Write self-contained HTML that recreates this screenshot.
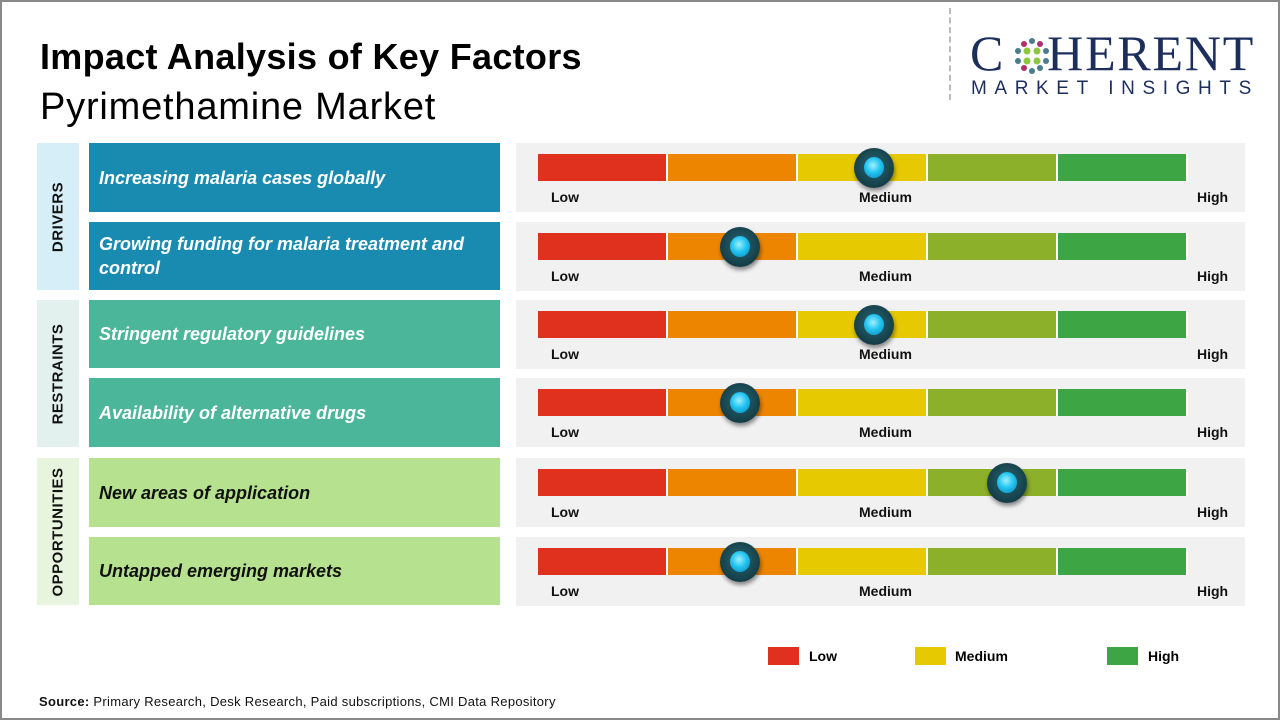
<!DOCTYPE html>
<html><head><meta charset="utf-8"><style>
*{margin:0;padding:0;box-sizing:border-box}
body{width:1280px;height:720px;position:relative;background:#fff;font-family:"Liberation Sans",sans-serif;overflow:hidden}
.frame{position:absolute;left:0;top:0;width:1280px;height:720px;border:2px solid #8a8a8a}
.abs{position:absolute}
.cat{position:absolute;left:37px;width:42px}
.cat span{position:absolute;left:50%;top:50%;transform:translate(-50%,-50%) rotate(-90deg);font-size:15px;font-weight:bold;color:#111;white-space:nowrap;letter-spacing:0.5px}
.fac{position:absolute;left:89px;width:411px;color:#fff;font-style:italic;font-weight:bold;font-size:18px;padding-left:10px;display:flex;align-items:center;line-height:24px}
.panel{position:absolute;left:516px;width:729px;background:#f1f1f2}
.seg{position:absolute;top:11px;height:27px;border-right:2px solid #fff}
.lbl{position:absolute;top:46px;font-size:14px;font-weight:bold;color:#111}
.knob{position:absolute;top:5px;width:40px;height:40px;border-radius:50%;background:radial-gradient(circle at 50% 45%,#2a6670 0%,#17444e 60%,#0d2a31 100%);box-shadow:1px 3px 4px rgba(0,0,0,.45)}
.knob:after{content:"";position:absolute;left:10px;top:9px;width:20px;height:21px;border-radius:50%;background:radial-gradient(circle at 45% 40%,#9ff0ff 0%,#22c4f0 45%,#0a82b8 100%)}
</style></head><body>
<div class="frame"></div>
<div class="abs" style="left:40px;top:36px;font-size:36px;font-weight:bold;color:#000;letter-spacing:0.3px">Impact Analysis of Key Factors</div>
<div class="abs" style="left:40px;top:86px;font-size:38px;color:#000;letter-spacing:0.8px">Pyrimethamine Market</div>
<div class="abs" style="left:949px;top:8px;height:92px;border-left:2px dashed #bbb"></div>
<div class="abs" style="left:970px;top:28px;font-family:'Liberation Serif',serif;font-size:50px;color:#1c2f5c;line-height:50px;letter-spacing:1.8px">C<span style="display:inline-block;width:42px"></span>HERENT</div>
<svg class="abs" style="left:1012px;top:36px" width="40" height="40">
<g fill="#4a7c8c"><circle cx="20" cy="5" r="3"/><circle cx="12" cy="8" r="3" fill="#b0306a"/><circle cx="28" cy="8" r="3" fill="#b0306a"/><circle cx="6" cy="15" r="3"/><circle cx="34" cy="15" r="3"/><circle cx="6" cy="25" r="3"/><circle cx="34" cy="25" r="3"/><circle cx="12" cy="32" r="3" fill="#b0306a"/><circle cx="28" cy="32" r="3"/><circle cx="20" cy="35" r="3"/></g>
<g fill="#8cc63f"><circle cx="15" cy="15" r="3.5"/><circle cx="25" cy="15" r="3.5"/><circle cx="15" cy="25" r="3.5"/><circle cx="25" cy="25" r="3.5"/></g></svg>
<div class="abs" style="left:971px;top:78px;font-size:19px;color:#1c2f5c;letter-spacing:7.6px">MARKET INSIGHTS</div>

<div class="cat" style="top:143px;height:147px;background:#d5eef8"><span>DRIVERS</span></div>
<div class="cat" style="top:300px;height:147px;background:#e2f1ee"><span>RESTRAINTS</span></div>
<div class="cat" style="top:458px;height:147px;background:#e8f5de"><span>OPPORTUNITIES</span></div>

<div class="fac" style="top:143px;height:69px;background:#1a8bb0">Increasing malaria cases globally</div>
<div class="fac" style="top:222px;height:68px;background:#1a8bb0">Growing funding for malaria treatment and control</div>
<div class="fac" style="top:300px;height:68px;background:#4bb69a">Stringent regulatory guidelines</div>
<div class="fac" style="top:378px;height:69px;background:#4bb69a">Availability of alternative drugs</div>
<div class="fac" style="top:458px;height:69px;background:#b6e290;color:#111">New areas of application</div>
<div class="fac" style="top:537px;height:68px;background:#b6e290;color:#111">Untapped emerging markets</div>

<div id="panels"></div>
<script>
var rows=[[143,874],[222,740],[300,874],[378,740],[458,1007],[537,740]];
var cols=["#e0301e","#ee8500","#e6c900","#8cb02a","#3ea545"];
var h="";
rows.forEach(function(r){
 h+='<div class="panel" style="top:'+r[0]+'px;height:69px">';
 for(var i=0;i<5;i++)h+='<div class="seg" style="left:'+(22+i*130)+'px;width:130px;background:'+cols[i]+'"></div>';
 h+='<div class="lbl" style="left:35px">Low</div><div class="lbl" style="left:343px">Medium</div><div class="lbl" style="left:681px">High</div>';
 h+='<div class="knob" style="left:'+(r[1]-516-20)+'px"></div></div>';
});
document.getElementById("panels").innerHTML=h;
</script>

<div class="abs" style="left:768px;top:647px;width:31px;height:18px;background:#e0301e"></div>
<div class="abs" style="left:809px;top:648px;font-size:14px;font-weight:bold">Low</div>
<div class="abs" style="left:915px;top:647px;width:31px;height:18px;background:#e6c900"></div>
<div class="abs" style="left:955px;top:648px;font-size:14px;font-weight:bold">Medium</div>
<div class="abs" style="left:1107px;top:647px;width:31px;height:18px;background:#3ea545"></div>
<div class="abs" style="left:1148px;top:648px;font-size:14px;font-weight:bold">High</div>

<div class="abs" style="left:39px;top:694px;font-size:13px;color:#111;letter-spacing:0.3px"><b>Source:</b> Primary Research, Desk Research, Paid subscriptions, CMI Data Repository</div>
</body></html>
